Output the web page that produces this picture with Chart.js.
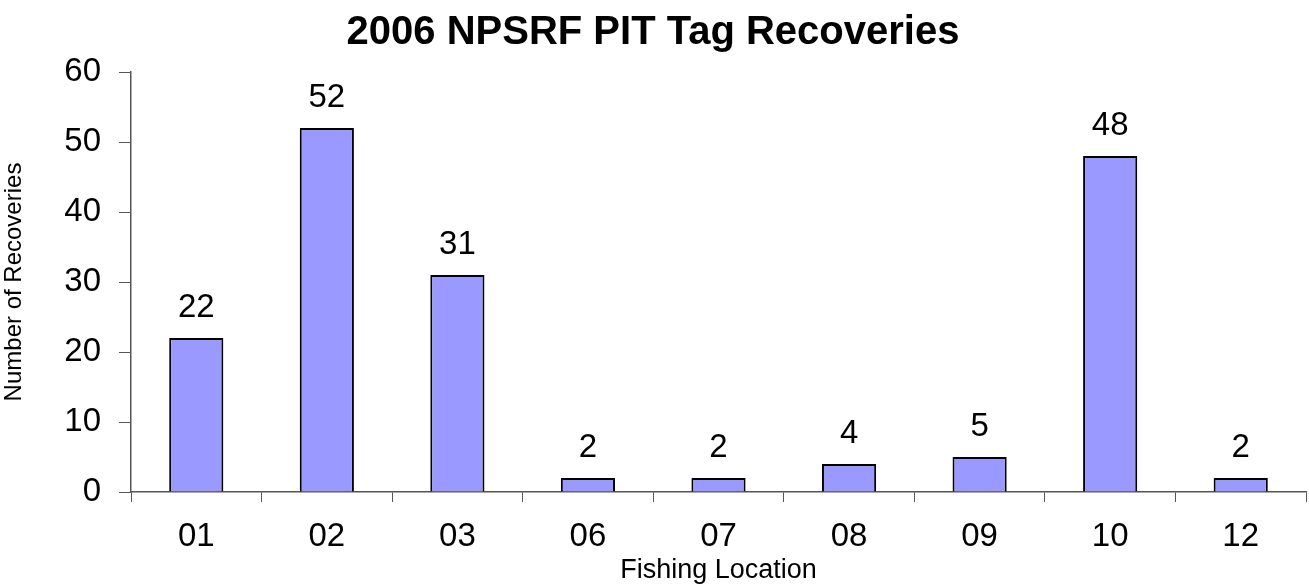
<!DOCTYPE html>
<html>
<head>
<meta charset="utf-8">
<script src="https://cdn.jsdelivr.net/npm/chart.js@4"></script>
<style>
    html, body { margin: 0; padding: 0; background: #fff; }
    #wrap { width: 1309px; height: 587px; position: relative; }
</style>
</head>
<body>
<div id="wrap"><canvas id="recoveriesChart"></canvas></div>
<script>
// Fishing locations and PIT tag recoveries (2006)
const locations = ['01', '02', '03', '06', '07', '08', '09', '10', '12'];
const recoveries = [22, 52, 31, 2, 2, 4, 5, 48, 2];
const yTicks = [0, 10, 20, 30, 40, 50, 60];

const FONT = "'Liberation Sans', Arial, sans-serif";

// draws the count above each bar
const barLabels = {
    id: 'barLabels',
    afterDatasetsDraw(chart) {
        const ctx = chart.ctx;
        const meta = chart.getDatasetMeta(0);
        ctx.save();
        ctx.font = '33px ' + FONT;
        ctx.fillStyle = '#000';
        ctx.textAlign = 'center';
        ctx.textBaseline = 'middle';
        meta.data.forEach((bar, i) => {
            ctx.fillText(String(recoveries[i]), bar.x, bar.y - 30);
        });
        ctx.restore();
    }
};

new Chart(document.getElementById('recoveriesChart'), {
    type: 'bar',
    data: {
        labels: locations,
        datasets: [{
            label: 'Recoveries',
            data: recoveries,
            backgroundColor: '#9999FF',
            borderColor: '#000',
            borderWidth: 2,
            categoryPercentage: 1,
            barPercentage: 0.415
        }]
    },
    options: {
        responsive: true,
        maintainAspectRatio: false,
        animation: false,
        layout: { padding: { top: 0, right: 3, bottom: 0, left: 0 } },
        plugins: {
            legend: { display: false },
            tooltip: { enabled: false },
            title: {
                display: true,
                text: '2006 NPSRF PIT Tag Recoveries',
                color: '#000',
                font: { family: FONT, size: 40, weight: 'bold' },
                padding: { top: 9, bottom: 15 }
            }
        },
        scales: {
            x: {
                grid: { display: true, drawOnChartArea: false, tickLength: 10, color: '#555' },
                border: { color: '#555', width: 1.5 },
                ticks: { color: '#000', font: { family: FONT, size: 33 }, padding: 15 },
                title: {
                    display: true,
                    text: 'Fishing Location',
                    color: '#000',
                    font: { family: FONT, size: 27 },
                    padding: { top: 0, bottom: 0 }
                },
                afterFit(scale) { scale.height = 95; }
            },
            y: {
                min: 0,
                max: 60,
                afterBuildTicks(scale) { scale.ticks = yTicks.map(v => ({ value: v })); },
                grid: { display: true, drawOnChartArea: false, tickLength: 12, color: '#555' },
                border: { color: '#555', width: 1.5 },
                ticks: { color: '#000', font: { family: FONT, size: 33 }, padding: 18 },
                title: {
                    display: true,
                    text: 'Number of Recoveries',
                    color: '#000',
                    font: { family: FONT, size: 24 },
                    padding: { top: 0, bottom: 2 }
                },
                afterFit(scale) { scale.width = 131; }
            }
        }
    },
    plugins: [barLabels]
});
</script>
</body>
</html>
